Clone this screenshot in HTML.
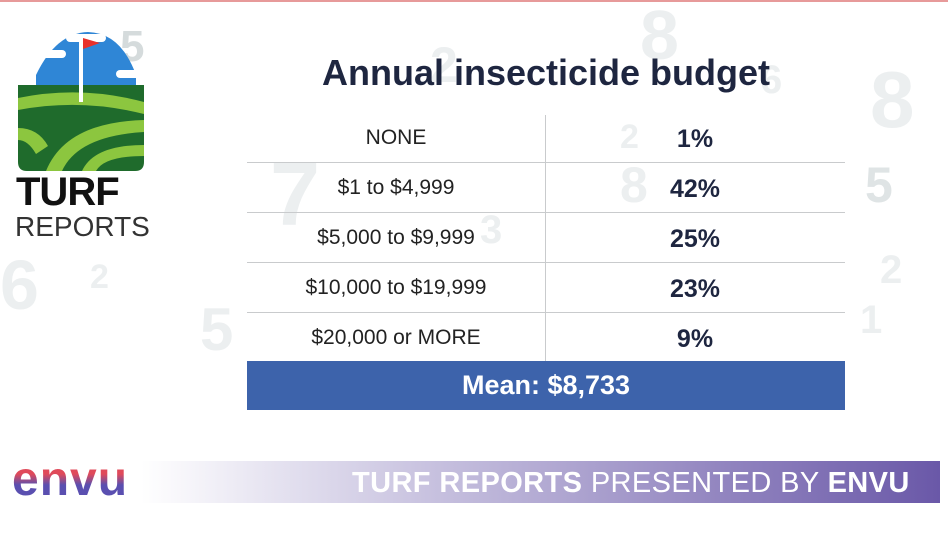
<!DOCTYPE html>
<html><head><meta charset="utf-8"><style>
*{margin:0;padding:0;box-sizing:border-box}
body{width:948px;height:533px;overflow:hidden;background:#fff;position:relative;font-family:"Liberation Sans",sans-serif}
.d{position:absolute;color:#eceff0;font-weight:bold;line-height:1}
.t{position:absolute;left:0;width:948px;text-align:center}
.row{position:absolute;left:247px;width:598px;height:1px;background:#c9cbcd}
.l{position:absolute;width:298px;left:247px;text-align:center;font-size:21px;color:#222}
.r{position:absolute;width:300px;left:545px;text-align:center;font-size:25px;font-weight:bold;color:#1e2640}
</style></head><body>
<div style="position:absolute;top:0;left:0;width:948px;height:2px;background:#e79a9a"></div>
<div class="d" style="left:270px;top:150px;font-size:90px">7</div>
<div class="d" style="left:870px;top:60px;font-size:80px">8</div>
<div class="d" style="left:640px;top:0px;font-size:70px">8</div>
<div class="d" style="left:865px;top:160px;font-size:50px;color:#dfe4e5">5</div>
<div class="d" style="left:0px;top:250px;font-size:70px">6</div>
<div class="d" style="left:620px;top:120px;font-size:34px">2</div>
<div class="d" style="left:620px;top:160px;font-size:50px">8</div>
<div class="d" style="left:90px;top:260px;font-size:34px">2</div>
<div class="d" style="left:860px;top:300px;font-size:40px">1</div>
<div class="d" style="left:880px;top:250px;font-size:40px">2</div>
<div class="d" style="left:760px;top:60px;font-size:40px">6</div>
<div class="d" style="left:200px;top:300px;font-size:60px">5</div>
<div class="d" style="left:430px;top:40px;font-size:50px">2</div>
<div class="d" style="left:480px;top:210px;font-size:40px">3</div>
<div class="d" style="left:120px;top:25px;font-size:44px;color:#d5dbdc">5</div>
<svg style="position:absolute;left:16px;top:30px" width="130" height="142" viewBox="0 0 130 142">
<path d="M20 60 V45 Q40 3 72 2 Q105 3 120 45 V60 Z" fill="#2f86d6"/>
<rect x="50" y="4" width="40" height="8" rx="4" fill="#fff"/>
<rect x="15" y="20" width="35" height="8" rx="4" fill="#fff"/>
<rect x="100" y="40" width="30" height="8" rx="4" fill="#fff"/>
<path d="M2 55 H128 V132 Q128 141 119 141 H11 Q2 141 2 132 Z" fill="#1f6b2c"/>
<path d="M2 68 Q65 55 128 72 V84 Q65 68 2 80 Z" fill="#8cc63f"/>
<path d="M30 141 Q50 92 128 90 V102 Q62 106 46 141 Z" fill="#8cc63f"/>
<path d="M66 141 Q78 115 128 115 V126 Q88 126 80 141 Z" fill="#8cc63f"/>
<path d="M2 98 Q22 98 32 116 L20 124 Q12 110 2 110 Z" fill="#8cc63f"/>
<rect x="63" y="6" width="4" height="66" fill="#fff"/>
<path d="M67 8 L84 13 L67 19 Z" fill="#e8302a"/>
</svg>
<div style="position:absolute;left:16px;top:170px;font-size:40px;font-weight:900;color:#111;letter-spacing:-1px">TURF</div>
<div style="position:absolute;left:15px;top:211px;font-size:28px;color:#333">REPORTS</div>
<div class="t" style="left:72px;top:52px;font-size:36px;font-weight:bold;color:#1e2640">Annual insecticide budget</div>
<div style="position:absolute;left:545px;top:115px;width:1px;height:246px;background:#c9cbcd"></div>
<div class="row" style="top:162px"></div>
<div class="row" style="top:212px"></div>
<div class="row" style="top:262px"></div>
<div class="row" style="top:312px"></div>
<div class="l" style="top:126px">NONE</div><div class="r" style="top:125px">1%</div>
<div class="l" style="top:176px">$1 to $4,999</div><div class="r" style="top:175px">42%</div>
<div class="l" style="top:226px">$5,000 to $9,999</div><div class="r" style="top:225px">25%</div>
<div class="l" style="top:276px">$10,000 to $19,999</div><div class="r" style="top:275px">23%</div>
<div class="l" style="top:326px">$20,000 or MORE</div><div class="r" style="top:325px">9%</div>
<div style="position:absolute;left:247px;top:361px;width:598px;height:49px;background:#3d63ab;color:#fff;font-size:27px;font-weight:bold;text-align:center;line-height:49px">Mean: $8,733</div>
<div style="position:absolute;left:0;top:461px;width:940px;height:42px;background:linear-gradient(90deg,#fff 15%,#c9c3e0 45%,#6a58a8 100%)"></div>
<div style="position:absolute;left:12px;top:452px;font-size:48px;font-weight:bold;letter-spacing:1px;background:linear-gradient(180deg,#e04a5a 40%,#5a4fb0 60%);-webkit-background-clip:text;color:transparent">envu</div>
<div style="position:absolute;left:352px;top:467px;font-size:29px;color:#fff;white-space:nowrap;letter-spacing:0.4px"><b>TURF REPORTS</b> PRESENTED BY <b>ENVU</b></div>
</body></html>
